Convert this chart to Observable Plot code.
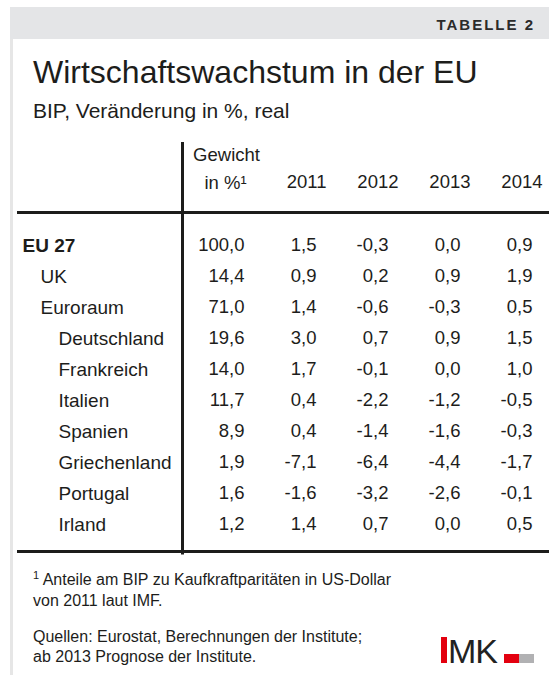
<!DOCTYPE html>
<html><head><meta charset="utf-8">
<script src="https://cdn.jsdelivr.net/npm/d3@7"></script>
<script src="https://cdn.jsdelivr.net/npm/@observablehq/plot@0.6"></script>
<style>
body{margin:0;background:#fff;font-family:"Liberation Sans",Arial,Helvetica,sans-serif;color:#1d1d1b}
#page{position:relative;width:549px;height:675px;overflow:hidden}
.abs{position:absolute;white-space:nowrap;line-height:1;z-index:2}
#page svg{position:absolute;left:0;top:0;z-index:1}
</style></head><body><div id="page"></div>
<script>
// ---- data ----
const countries = ["EU 27","UK","Euroraum","Deutschland","Frankreich","Italien","Spanien","Griechenland","Portugal","Irland"];
const levels    = [0,1,1,2,2,2,2,2,2,2];
const weights   = [100.0,14.4,71.0,19.6,14.0,11.7,8.9,1.9,1.6,1.2];
const g2011     = [1.5,0.9,1.4,3.0,1.7,0.4,0.4,-7.1,-1.6,1.4];
const g2012     = [-0.3,0.2,-0.6,0.7,-0.1,-2.2,-1.4,-6.4,-3.2,0.7];
const g2013     = [0.0,0.9,-0.3,0.9,0.0,-1.2,-1.6,-4.4,-2.6,0.0];
const g2014     = [0.9,1.9,0.5,1.5,1.0,-0.5,-0.3,-1.7,-0.1,0.5];
const years     = ["2011","2012","2013","2014"];
const columns   = ["Gewicht", ...years];
const weightHeader = ["Gewicht", "in %\u00B9"];

// ---- table build ----
const rows = countries.map((c, i) => ({
  country: c, level: levels[i],
  "Gewicht": weights[i], "2011": g2011[i], "2012": g2012[i], "2013": g2013[i], "2014": g2014[i]
}));
const cells = rows.flatMap(r => columns.map(col => ({country: r.country, col, value: r[col]})));
const fmt = v => v.toFixed(1).replace(".", ",");
const ink = "#1d1d1b";
const fontFamily = '"Liberation Sans", Arial, Helvetica, sans-serif';
const fs = 18.5, fsLabel = 19;

const chart = Plot.plot({
  width: 549, height: 675,
  marginLeft: 182, marginRight: 0, marginTop: 212, marginBottom: 124,
  insetLeft: 61, insetRight: 16, insetTop: 30, insetBottom: 24,
  x: {type: "point", domain: columns, padding: 0, axis: null},
  y: {type: "point", domain: countries, padding: 0, axis: null},
  style: {fontFamily, color: ink, background: "transparent", overflow: "visible"},
  marks: [
    Plot.frame({anchor: "top", stroke: ink, strokeWidth: 3, insetLeft: -164}),
    Plot.frame({anchor: "bottom", stroke: ink, strokeWidth: 3, insetLeft: -164}),
    Plot.frame({anchor: "left", stroke: ink, strokeWidth: 3, insetTop: -69, insetBottom: -1.5}),
    Plot.text(cells, {x: "col", y: "country", text: d => fmt(d.value), textAnchor: "end", fontSize: fs, fill: ink}),
    Plot.text(rows.filter(r => r.level === 0), {y: "country", text: "country", frameAnchor: "left", textAnchor: "start", dx: -160, fontSize: fsLabel, fontWeight: "bold", fill: ink}),
    Plot.text(rows.filter(r => r.level === 1), {y: "country", text: "country", frameAnchor: "left", textAnchor: "start", dx: -142, fontSize: fsLabel, fill: ink}),
    Plot.text(rows.filter(r => r.level === 2), {y: "country", text: "country", frameAnchor: "left", textAnchor: "start", dx: -124, fontSize: fsLabel, fill: ink}),
    Plot.text(years, {x: d => d, text: d => d, frameAnchor: "top", lineAnchor: "middle", dy: -30, textAnchor: "end", dx: 10, fontSize: fs, fill: ink}),
    Plot.text(weightHeader.slice(0, 1), {x: () => "Gewicht", text: d => d, frameAnchor: "top", lineAnchor: "middle", dy: -57, textAnchor: "middle", dx: -18, fontSize: fs, fill: ink}),
    Plot.text(weightHeader.slice(1), {x: () => "Gewicht", text: d => d, frameAnchor: "top", lineAnchor: "middle", dy: -29, textAnchor: "middle", dx: -19, fontSize: fs, fill: ink})
  ]
});

const page = document.getElementById("page");
page.appendChild(chart);
page.insertAdjacentHTML("beforeend", `
<div class="abs" style="left:10px;top:7px;width:539px;height:32px;background:#e4e5e7"></div>
<div class="abs" style="left:10px;top:39px;width:3px;height:636px;background:#e6e6e6"></div>
<div class="abs" style="right:14px;top:17px;font-size:15px;font-weight:bold;letter-spacing:2px;color:#2b2b2b">TABELLE 2</div>
<div class="abs" style="left:33px;top:56px;font-size:32px;color:#1d1d1b">Wirtschaftswachstum in der EU</div>
<div class="abs" style="left:33px;top:100px;font-size:21px;color:#1d1d1b">BIP, Veränderung in %, real</div>
<div class="abs" style="left:33px;top:572px;font-size:16px"><span style="font-size:11px;position:relative;top:-6px">1</span> Anteile am BIP zu Kaufkraftparitäten in US-Dollar</div>
<div class="abs" style="left:33px;top:593px;font-size:16px">von 2011 laut IMF.</div>
<div class="abs" style="left:33px;top:629px;font-size:16px">Quellen: Eurostat, Berechnungen der Institute;</div>
<div class="abs" style="left:33px;top:649px;font-size:16px">ab 2013 Prognose der Institute.</div>
<div class="abs" style="left:441px;top:637px;width:6px;height:26px;background:#e3000f"></div>
<div class="abs" style="left:448px;top:634px;font-size:34px;color:#222;letter-spacing:-1px">MK</div>
<div class="abs" style="left:504px;top:654px;width:15px;height:9px;background:#e3000f"></div>
<div class="abs" style="left:519px;top:654px;width:15px;height:9px;background:#b1b1b3"></div>
`);
</script></body></html>
